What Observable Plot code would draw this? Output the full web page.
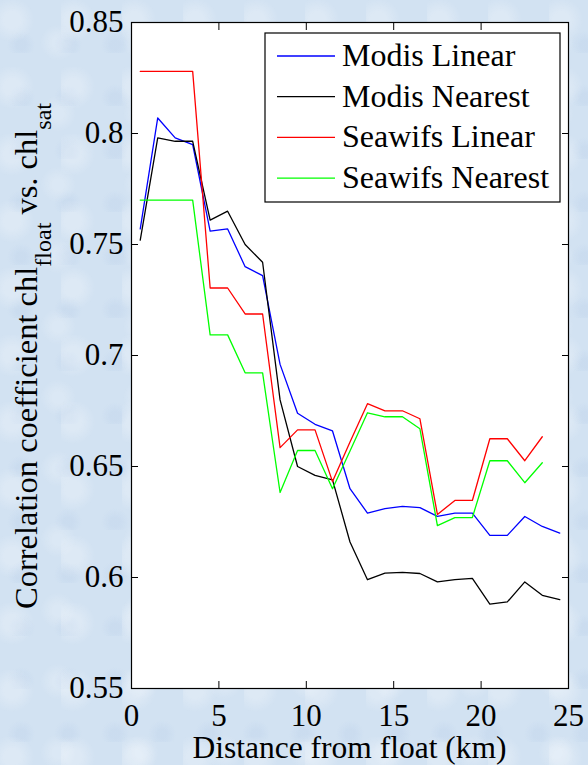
<!DOCTYPE html>
<html>
<head>
<meta charset="utf-8">
<script src="https://cdn.jsdelivr.net/npm/d3@7"></script>
<script src="https://cdn.jsdelivr.net/npm/@observablehq/plot@0.6"></script>
<style>
  html, body { margin: 0; padding: 0; }
  body {
    width: 588px; height: 765px; overflow: hidden;
    background-color: #d2e2f2;
    background-image:
      radial-gradient(circle at 20% 30%, rgba(255,255,255,0.25) 0 8px, transparent 22px),
      radial-gradient(circle at 70% 60%, rgba(255,255,255,0.2) 0 6px, transparent 18px),
      radial-gradient(circle at 45% 85%, rgba(170,195,228,0.18) 0 5px, transparent 14px);
    background-size: 61px 67px, 83px 71px, 47px 53px;
  }
  #chart svg { display: block; }
</style>
</head>
<body>
<div id="chart"></div>
<script>
// ---- data ----
const distance = [0.5, 1.5, 2.5, 3.5, 4.5, 5.5, 6.5, 7.5, 8.5, 9.5, 10.5, 11.5, 12.5,
                  13.5, 14.5, 15.5, 16.5, 17.5, 18.5, 19.5, 20.5, 21.5, 22.5, 23.5, 24.5];
const modisLinear   = [0.757, 0.807, 0.798, 0.795, 0.756, 0.757, 0.740, 0.736, 0.696, 0.674, 0.669, 0.666, 0.640,
                       0.629, 0.631, 0.632, 0.6315, 0.6275, 0.629, 0.629, 0.619, 0.619, 0.6275, 0.623, 0.620];
const modisNearest  = [0.752, 0.798, 0.7965, 0.7965, 0.761, 0.765, 0.750, 0.742, 0.680, 0.650, 0.646, 0.644, 0.616,
                       0.599, 0.602, 0.6023, 0.6018, 0.598, 0.599, 0.5996, 0.588, 0.589, 0.598, 0.592, 0.590];
const seawifsLinear = [0.828, 0.828, 0.828, 0.828, 0.7304, 0.7304, 0.7187, 0.7187, 0.6585, 0.6665, 0.6665, 0.6432, 0.661,
                       0.6783, 0.6751, 0.6751, 0.6715, 0.6284, 0.6347, 0.6347, 0.6625, 0.6625, 0.6526, 0.6634];
const seawifsNearest= [0.770, 0.770, 0.770, 0.770, 0.7093, 0.7093, 0.6922, 0.6922, 0.6383, 0.6572, 0.6572, 0.640, 0.657,
                       0.6742, 0.6724, 0.6724, 0.667, 0.6234, 0.627, 0.627, 0.6526, 0.6526, 0.6427, 0.6517];
const seriesNames  = ["Modis Linear", "Modis Nearest", "Seawifs Linear", "Seawifs Nearest"];
const seriesValues = [modisLinear, modisNearest, seawifsLinear, seawifsNearest];
const seriesColors = ["#0000ff", "#000000", "#ff0000", "#00ff00"];
const xTicks = [0, 5, 10, 15, 20, 25];
const yTicks = [0.55, 0.6, 0.65, 0.7, 0.75, 0.8, 0.85];
const xLabel = "Distance from float (km)";

// ---- build ----
const W = 588, H = 765;
const mL = 131, mR = 20, mT = 22, mB = 77;
const FONT = "'Liberation Serif', 'Times New Roman', Times, serif";
const FS = "32px";
const TICK_FS = 31;

const lineMarks = seriesValues.map((vals, i) =>
  Plot.line(vals.map((v, j) => ({x: distance[j], y: v})),
    {x: "x", y: "y", stroke: seriesColors[i], strokeWidth: 1.3})
);

const plot = Plot.plot({
  width: W, height: H,
  marginLeft: mL, marginRight: mR, marginTop: mT, marginBottom: mB,
  style: {fontFamily: FONT, fontSize: TICK_FS + "px", background: "transparent", color: "black"},
  x: {domain: [0, 25]},
  y: {domain: [0.55, 0.85]},
  marks: [
    Plot.frame({fill: "white"}),
    ...lineMarks,
    // inward ticks on all four sides
    Plot.axisX(xTicks, {anchor: "bottom", tickSize: -7, text: null, label: null}),
    Plot.axisX(xTicks, {anchor: "top", tickSize: -7, text: null, label: null}),
    Plot.axisY(yTicks, {anchor: "left", tickSize: -7, text: null, label: null}),
    Plot.axisY(yTicks, {anchor: "right", tickSize: -7, text: null, label: null}),
    // tick labels
    Plot.axisX(xTicks, {anchor: "bottom", tickSize: 0, tickPadding: 15, label: null, tickFormat: d => String(d)}),
    Plot.axisY(yTicks, {anchor: "left", tickSize: 0, tickPadding: 8, label: null, tickFormat: d => String(d)}),
    Plot.frame({stroke: "black", strokeWidth: 1.2})
  ]
});
document.getElementById("chart").appendChild(plot);

const svg = d3.select(plot);

// x axis label
svg.append("text")
  .attr("x", mL + (W - mL - mR) / 2)
  .attr("y", 758)
  .attr("text-anchor", "middle")
  .style("font-family", FONT).style("font-size", "31.5px")
  .attr("fill", "black")
  .text(xLabel);

// y axis label with subscripts
const yl = svg.append("text")
  .attr("transform", "translate(37,356) rotate(-90)")
  .attr("text-anchor", "middle")
  .style("font-family", FONT).style("font-size", "32.5px")
  .attr("fill", "black");
yl.append("tspan").text("Correlation coefficient chl");
yl.append("tspan").attr("dy", 14).style("font-size", "24px").text("float");
yl.append("tspan").attr("dy", -14).text(" vs. chl");
yl.append("tspan").attr("dy", 14).style("font-size", "24px").text("sat");

// legend
const lg = svg.append("g");
lg.append("rect").attr("x", 265).attr("y", 33).attr("width", 295).attr("height", 169)
  .attr("fill", "white").attr("stroke", "black").attr("stroke-width", 1.2);
seriesNames.forEach((name, i) => {
  const yy = 56 + i * 40.7;
  lg.append("line").attr("x1", 277).attr("x2", 335).attr("y1", yy).attr("y2", yy)
    .attr("stroke", seriesColors[i]).attr("stroke-width", 1.3);
  lg.append("text").attr("x", 342).attr("y", yy + 10)
    .attr("text-anchor", "start")
    .style("font-family", FONT).style("font-size", FS).attr("fill", "black")
    .text(name);
});
</script>
</body>
</html>
